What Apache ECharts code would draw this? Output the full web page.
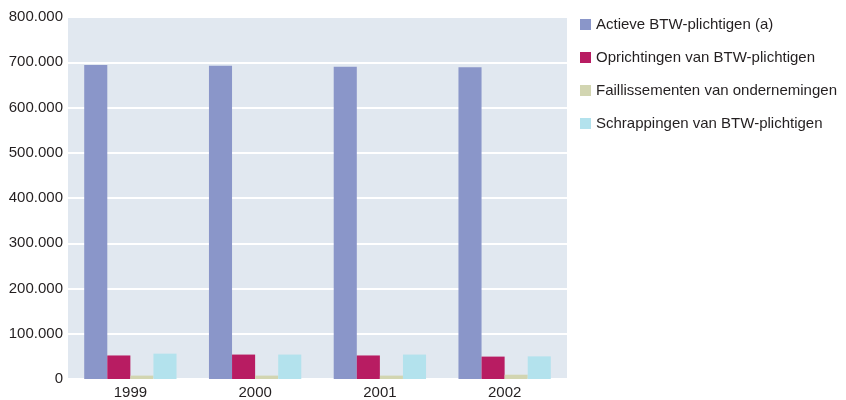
<!DOCTYPE html>
<html>
<head>
<meta charset="utf-8">
<script src="https://cdn.jsdelivr.net/npm/echarts@6/dist/echarts.min.js"></script>
<style>
  html, body { margin: 0; padding: 0; background: #fff; }
  #chart { width: 846px; height: 400px; }
</style>
</head>
<body>
<div id="chart"></div>
<script>
  // jaren en reeksen
  var years = ['1999', '2000', '2001', '2002'];
  var actief = [694000, 692000, 690000, 689000];
  var oprichtingen = [52000, 54000, 52000, 49500];
  var faillissementen = [7500, 7500, 7500, 9500];
  var schrappingen = [56000, 54000, 54000, 50000];

  var seriesNames = [
    'Actieve BTW-plichtigen (a)',
    'Oprichtingen van BTW-plichtigen',
    'Faillissementen van ondernemingen',
    'Schrappingen van BTW-plichtigen'
  ];
  var colors = ['#8a96c9', '#b81c62', '#d2d5b1', '#b3e2ed'];

  var font = 'Liberation Sans';

  function fmt(v) {
    return String(v).replace(/\B(?=(\d{3})+(?!\d))/g, '.');
  }

  var chart = echarts.init(document.getElementById('chart'));
  chart.setOption({
    animation: false,
    color: colors,
    grid: {
      left: 68, right: 279, top: 17, bottom: 20,
      show: true, backgroundColor: '#e1e8f0', borderWidth: 0
    },
    legend: {
      orient: 'vertical',
      left: 580, top: 17,
      padding: 0,
      itemWidth: 11, itemHeight: 11, itemGap: 18,
      icon: 'rect',
      textStyle: { fontFamily: font, fontSize: 15, color: '#231f20', lineHeight: 15 },
      data: seriesNames
    },
    xAxis: {
      type: 'category',
      data: years,
      axisLine: { show: false },
      axisTick: { show: false },
      axisLabel: { fontFamily: font, fontSize: 15, color: '#231f20', margin: 6 }
    },
    yAxis: {
      type: 'value',
      min: 0, max: 800000, interval: 100000,
      axisLine: { show: false },
      axisTick: { show: false },
      splitLine: { lineStyle: { color: '#ffffff', width: 2 } },
      axisLabel: { fontFamily: font, fontSize: 15, color: '#231f20', margin: 5, formatter: fmt }
    },
    series: [
      { name: seriesNames[0], type: 'bar', data: actief, barGap: '0%', barCategoryGap: '26%' },
      { name: seriesNames[1], type: 'bar', data: oprichtingen },
      { name: seriesNames[2], type: 'bar', data: faillissementen },
      { name: seriesNames[3], type: 'bar', data: schrappingen }
    ]
  });
</script>
</body>
</html>
